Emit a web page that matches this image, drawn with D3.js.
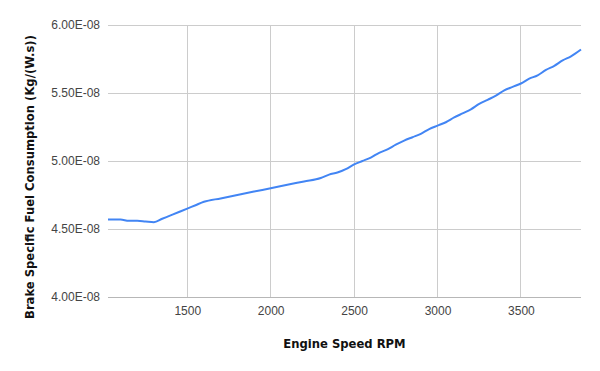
<!DOCTYPE html>
<html><head><meta charset="utf-8">
<script src="https://cdn.jsdelivr.net/npm/d3@7"></script>
<style>body{margin:0;background:#fff}svg{display:block}</style>
</head><body>
<script>
const rpm = [1025,1100,1150,1200,1250,1300,1350,1400,1450,1500,1550,1600,1700,1800,1900,2000,2100,2200,2300,2350,2400,2450,2500,2550,2600,2650,2700,2750,2800,2850,2900,2950,3000,3050,3100,3150,3200,3250,3300,3350,3400,3450,3500,3550,3600,3650,3700,3750,3800,3860];
const bsfc = [4.57,4.57,4.56,4.56,4.555,4.55,4.575,4.60,4.625,4.65,4.675,4.70,4.725,4.75,4.775,4.80,4.825,4.85,4.875,4.90,4.915,4.94,4.975,5.00,5.025,5.06,5.085,5.12,5.15,5.175,5.20,5.235,5.26,5.285,5.32,5.35,5.38,5.42,5.45,5.48,5.52,5.545,5.57,5.605,5.63,5.67,5.70,5.74,5.77,5.82].map(v=>v*1e-8);
const xTicks = [1500,2000,2500,3000,3500];
const yTicks = [4.0e-8,4.5e-8,5.0e-8,5.5e-8,6.0e-8];
const yTickLabels = ["4.00E-08","4.50E-08","5.00E-08","5.50E-08","6.00E-08"];
const xTitle = "Engine Speed RPM";
const yTitle = "Brake Specific Fuel Consumption (Kg/(W.s))";

const W=600,H=371;
const m={l:108,r:19,t:25,b:74};
const svg=d3.select("body").append("svg").attr("width",W).attr("height",H);
const x=d3.scaleLinear().domain([d3.min(rpm),d3.max(rpm)]).range([m.l,W-m.r]);
const y=d3.scaleLinear().domain([4.0e-8,6.0e-8]).range([H-m.b,m.t]);

const g=svg.append("g");
g.selectAll(".vg").data(xTicks).join("line")
 .attr("x1",d=>x(d)).attr("x2",d=>x(d)).attr("y1",m.t).attr("y2",H-m.b)
 .attr("stroke","#cccccc").attr("stroke-width",1).attr("shape-rendering","crispEdges");
g.selectAll(".hg").data(yTicks).join("line")
 .attr("x1",m.l).attr("x2",W-m.r).attr("y1",d=>y(d)).attr("y2",d=>y(d))
 .attr("stroke",(d,i)=>i===0?"#b7b7b7":"#cccccc").attr("stroke-width",1).attr("shape-rendering","crispEdges");

const xa=svg.append("g").attr("transform",`translate(0,${H-m.b})`)
 .call(d3.axisBottom(x).tickValues(xTicks).tickSize(0).tickPadding(9).tickFormat(d3.format("d")));
xa.select(".domain").remove();
xa.selectAll("text").attr("font-family","Liberation Sans, Arial, sans-serif").attr("font-size",12).attr("fill","#444");

const ya=svg.append("g").attr("transform",`translate(${m.l},0)`)
 .call(d3.axisLeft(y).tickValues(yTicks).tickSize(0).tickPadding(8).tickFormat((d,i)=>yTickLabels[i]));
ya.select(".domain").remove();
ya.selectAll("text").attr("font-family","Liberation Sans, Arial, sans-serif").attr("font-size",12).attr("fill","#444");

const line=d3.line().x((d,i)=>x(rpm[i])).y(d=>y(d)).curve(d3.curveMonotoneX);
svg.append("path").datum(bsfc).attr("d",line).attr("fill","none")
 .attr("stroke","#4285f4").attr("stroke-width",2).attr("stroke-linejoin","round");

svg.append("text").attr("x",(m.l+W-m.r)/2).attr("y",348).attr("text-anchor","middle")
 .attr("font-family","DejaVu Sans, sans-serif").attr("font-weight","bold").attr("font-size",11.6).attr("fill","#111").text(xTitle);
svg.append("text").attr("transform","translate(34,177) rotate(-90)").attr("text-anchor","middle")
 .attr("font-family","DejaVu Sans, sans-serif").attr("font-weight","bold").attr("font-size",11.6).attr("fill","#111").text(yTitle);
</script>
</body></html>
